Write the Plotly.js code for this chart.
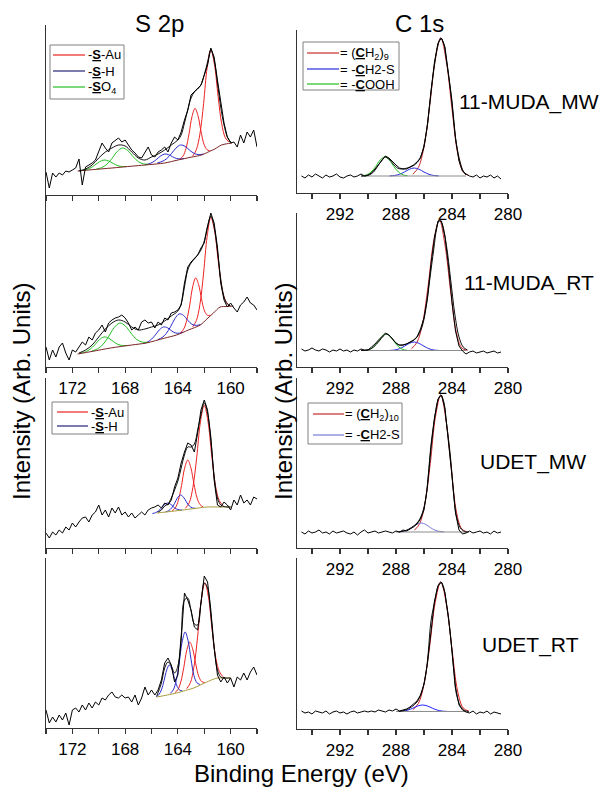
<!DOCTYPE html>
<html><head><meta charset="utf-8">
<script src="https://cdn.plot.ly/plotly-3.0.1.min.js"></script>
<style>html,body{margin:0;padding:0;background:#fff}#chart{width:613px;height:792px}</style>
</head><body><div id="chart"></div>
<script>
// ---------- energy grids (eV) ----------
const sGrid = [174,173.75,173.5,173.25,173,172.75,172.5,172.25,172,171.75,171.5,171.25,171,170.75,170.5,170.25,170,169.75,169.5,169.25,169,168.75,168.5,168.25,168,167.75,167.5,167.25,167,166.75,166.5,166.25,166,165.75,165.5,165.25,165,164.75,164.5,164.25,164,163.75,163.5,163.25,163,162.75,162.5,162.25,162,161.75,161.5,161.25,161,160.75,160.5,160.25,160,159.75,159.5,159.25,159,158.75,158.5,158.25,158];
const cGrid = [294.75,294.5,294.25,294,293.75,293.5,293.25,293,292.75,292.5,292.25,292,291.75,291.5,291.25,291,290.75,290.5,290.25,290,289.75,289.5,289.25,289,288.75,288.5,288.25,288,287.75,287.5,287.25,287,286.75,286.5,286.25,286,285.75,285.5,285.25,285,284.75,284.5,284.25,284,283.75,283.5,283.25,283,282.75,282.5,282.25,282,281.75,281.5,281.25,281,280.75,280.5];

// ---------- raw spectra (arb. units) ----------
const l1Raw = [23,7,22,18,22,20,24,23,25,27,36,10,28,30,32,35,43,52,47,43,52,55,57,53,55,50,45,42,38,37,42,48,40,38,43,45,48,43,52,58,55,63,75,85,100,103,107,110,120,130,147,138,115,92,72,58,52,53,48,60,52,63,58,65,48];
const l2Raw = [20,7,17,10,20,24,14,7,17,15,20,25,22,30,27,34,37,42,35,44,47,49,50,52,49,44,37,40,37,45,47,44,45,39,45,42,49,47,54,55,57,62,84,100,105,109,112,119,124,140,154,144,120,84,67,60,64,59,55,62,65,70,64,62,57];
const l3Raw = [15,10,16,13,18,15,21,18,25,21,26,30,31,26,33,36,43,33,38,31,40,35,41,33,36,31,35,30,33,36,33,38,40,41,43,40,45,43,48,61,70,85,96,105,103,96,115,138,148,138,111,68,43,41,46,43,38,48,43,53,45,48,43,51,49];
const l4Raw = [18,5,11,6,13,8,15,3,18,20,16,23,18,25,20,26,23,30,28,33,36,31,30,33,30,31,26,33,23,30,41,33,38,33,38,48,65,70,63,46,53,88,135,128,118,101,98,125,152,146,118,81,53,46,51,45,50,41,51,48,55,48,56,61,53];
const r1Raw = [17,15,18,16,19,17,15,18,16,17,19,16,15,17,18,16,17,19,17,18,20,24,28,32,37,35,31,28,25,24,24,26,28,31,35,46,68,102,131,150,155,146,121,92,55,32,22,19,17,16,18,15,17,16,18,15,17,14];
const r2Raw = [18,16,17,19,17,16,18,17,15,17,16,18,16,17,15,17,16,18,17,17,20,23,27,31,34,32,28,24,22,22,23,25,27,30,38,49,70,103,130,146,146,130,101,65,36,21,16,13,15,16,14,15,16,14,15,16,14,15];
const r3Raw = [16,14,17,15,16,18,15,16,14,17,15,16,17,15,14,16,13,16,18,15,16,17,15,16,17,16,15,17,16,18,17,19,21,24,29,38,62,100,130,149,153,139,108,72,35,18,14,15,17,15,16,17,15,16,14,17,15,16];
const r4Raw = [18,16,17,15,18,17,16,18,15,17,18,16,17,15,17,18,16,17,18,17,18,17,19,18,17,19,18,20,18,19,20,22,25,28,34,45,66,100,128,143,147,136,112,78,42,24,19,17,16,18,15,17,16,18,15,17,16,15];

// ---------- fit envelopes ----------
const sEnvE12 = [171.5,171,170.5,170,169.5,169,168.5,168,167.5,167,166.5,166,165.5,165,164.5,164,163.75,163.5,163.25,163,162.75,162.5,162.25,162,161.75,161.5,161.25,161,160.75,160.5,160.25,160];
const l1Env = [24,26,30,37,43,47,50,49,43,37,35,38,41,45,50,55,60,72,85,97,103,106,110,120,133,145,135,112,88,70,58,53];
const l2Env = [14,17,22,30,38,44,47,45,40,37,38,40,42,46,51,56,63,80,97,104,108,112,117,126,141,151,140,116,88,70,63,61];
const l3EnvE = [165.5,165.25,165,164.75,164.5,164.25,164,163.75,163.5,163.25,163,162.75,162.5,162.25,162,161.75,161.5,161.25,161,160.75,160.5,160.25,160];
const l3Env = [36,38,42,44,50,58,67,80,93,101,101,104,118,133,145,135,108,72,50,43,41.5,41,41];
const l4EnvE = [165.6,165.25,165,164.75,164.5,164.25,164,163.75,163.5,163.25,163,162.75,162.5,162.25,162,161.75,161.5,161.25,161,160.75,160.5,160.25,160];
const l4Env = [32,45,60,66,62,55,62,92,128,130,117,104,103,125,145,140,113,80,58,51,50,50,50];
const r1EnvE = [290.5,290,289.6,289.3,289,288.8,288.5,288.2,287.9,287.6,287.2,286.8,286.4,286.1,285.8,285.6,285.3,285,284.8,284.6,284.4,284.1,283.9,283.7,283.4,283.2,283];
const r1Env = [17,17.5,21,27,33,36,34,29,25,24,25,27,32,42,64,88,123,148,155,150,133,102,75,50,30,22,18];
const r2EnvE = [290.5,290,289.6,289.2,288.9,288.7,288.4,288.1,287.8,287.5,287.1,286.7,286.4,286.1,285.8,285.6,285.3,285.1,284.9,284.7,284.4,284.1,283.8,283.5,283.2,282.9];
const r2Env = [16.5,17,20,26,31,33,30.5,25.5,22,22,24,27,32,42,64,86,118,138,147,143,122,88,53,30,20,17];
const r34EnvE = [287.8,287.3,286.9,286.5,286.2,285.9,285.7,285.5,285.2,285,284.8,284.6,284.4,284.1,283.9,283.7,283.4,283.1,282.8];
const r3Env = [16,17.5,20.5,25,32,47,72,103,134,148,153,147,126,90,56,33,20,16.5,16];
const r4Env = [17.5,19,22,27,35,52,76,108,130,143,147,142,125,93,62,36,23,18.5,17.5];

// ---------- backgrounds ----------
const l1BgE = [171.6,170.5,169,167.5,166.5,165,164,163,162.2,161.6,161.2,160.7,160.3,159.9];
const l1Bg  = [24,25.3,27,28.8,30,32,35,37.8,40,43.6,46,50,51.2,52];
const l2BgE = [171.6,170.5,169.1,167.5,166.4,165,164.1,163.2,162.3,161.8,161.3,160.8,160.3,159.8];
const l2Bg  = [13,15.6,19,22,24,28.9,32,37,42,48,54,60,60.5,61];
const l3BgE = [165.6,164.5,163.5,162.5,161.8,161,160];
const l3Bg  = [35,36.6,38.2,39.9,41,41,41];
const l4BgE = [165.6,164.8,164.1,163.4,162.8,162.3,161.8,161.3,161,160.5,160];
const l4Bg  = [31,33,35,37.6,40,43,46,48.8,50,50,50];
const r12BgE = [290.5,283];
const r1Bg = [17,17];
const r2Bg = [16.5,16.5];
const r34BgE = [288,283];
const r3Bg = [16,16];
const r4Bg = [17.5,17.5];

// ---------- fitted components ----------
const l1AuBigE = [162.88,162.6,162.33,162.05,161.78,161.5,161.23,160.95,160.68,160.4,160.13];
const l1AuBig  = [38.8,45.2,60.9,91.4,127.4,145.2,130.7,98.5,71.3,57.2,53.0];
const l1AuSmE  = [163.83,163.6,163.38,163.15,162.93,162.7,162.48,162.25,162.03,161.8,161.58];
const l1AuSm   = [36.1,39.1,46.8,61.4,78.4,86.6,79.6,63.9,51.1,45.4,44.3];
const l1H1E = [165.55,165.2,164.85,164.5,164.15,163.8,163.45,163.1,162.75,162.4,162.05];
const l1H1  = [32.1,33.5,36.3,41.2,46.8,50.0,48.6,44.7,41.5,40.3,41.1];
const l1H2E = [166.5,166.2,165.9,165.6,165.3,165,164.7,164.4,164.1,163.8,163.5];
const l1H2  = [30.1,31.1,32.9,35.8,39.1,41,40.3,38.2,36.5,36.1,36.5];
const l1O1E = [170.2,169.8,169.4,169,168.6,168.2,167.8,167.4,167,166.6,166.2];
const l1O1  = [25.8,27.3,30.5,36.5,43.5,47,44.4,38.4,33.4,31.1,30.8];
const l1O2E = [171.35,171,170.65,170.3,169.95,169.6,169.25,168.9,168.55,168.2,167.85];
const l1O2  = [24.4,25.2,26.9,29.9,33.2,35,34.0,31.5,29.3,28.5,28.5];

const l2AuBigE = [162.88,162.6,162.33,162.05,161.78,161.5,161.23,160.95,160.68,160.4,160.13];
const l2AuBig  = [40.1,46.4,62.4,94,130.6,149.6,137.2,107.2,80.7,66.5,62.0];
const l2AuSmE  = [163.78,163.55,163.33,163.1,162.88,162.65,162.43,162.2,161.98,161.75,161.53];
const l2AuSm   = [34.4,38.2,46.6,62.1,80.0,89.1,82.5,67.7,56.1,51.7,51.8];
const l2H1E = [165.53,165.2,164.88,164.55,164.23,163.9,163.58,163.25,162.93,162.6,162.28];
const l2H1  = [27.3,29.5,33.5,40.4,48.3,53.1,51.7,46.7,42.7,41.6,42.5];
const l2H2E = [166.6,166.3,166,165.7,165.4,165.1,164.8,164.5,164.2,163.9,163.6];
const l2H2  = [23.7,25.0,27.8,32.2,37.2,40.0,39.3,36.4,34.1,33.8,34.9];
const l2O1E = [170.53,170.1,169.68,169.25,168.83,168.4,167.98,167.55,167.13,166.7,166.28];
const l2O1  = [15.9,18.1,22.6,30.5,39.4,44.0,41.0,33.8,27.6,24.9,24.7];
const l2O2E = [171.35,171,170.65,170.3,169.95,169.6,169.25,168.9,168.55,168.2,167.85];
const l2O2  = [13.8,15.2,17.9,22.2,27.3,30.0,28.9,25.5,22.6,21.5,21.5];

const l3AuBigE = [163.43,163.14,162.86,162.57,162.29,162,161.72,161.43,161.15,160.86,160.58];
const l3AuBig  = [39.7,45.2,60.7,90.7,126,142.7,126.8,92,62.4,47.4,42.3];
const l3AuSmE  = [164.43,164.19,163.96,163.72,163.49,163.25,163.02,162.78,162.55,162.31,162.08];
const l3AuSm   = [37.3,40.2,47.9,62.6,79.8,88.0,80.5,64.1,50.2,43.3,41.1];
const l3H1E = [164.93,164.7,164.48,164.25,164.03,163.8,163.58,163.35,163.13,162.9,162.68];
const l3H1  = [36.1,37.3,39.9,44.6,50.2,53.0,50.9,46.1,42.0,40.1,39.8];
const l3H2E = [165.93,165.7,165.48,165.25,165.03,164.8,164.58,164.35,164.13,163.9,163.68];
const l3H2  = [34.4,35.3,36.9,39.9,43.3,45.0,44.0,41.4,39.1,38.2,38.0];

const l4AuBigE = [163.33,163.05,162.78,162.5,162.23,161.95,161.68,161.4,161.13,160.85,160.58];
const l4AuBig  = [39.3,45.3,61.1,91.8,127.5,145.1,130.7,98,70.4,56.3,51.3];
const l4AuSmE  = [164.23,164,163.78,163.55,163.33,163.1,162.88,162.65,162.43,162.2,161.98];
const l4AuSm   = [35.3,38.3,46.1,60.6,77.5,85.9,79.2,64.4,52.1,46.5,45.5];
const l4H1E = [164.58,164.35,164.13,163.9,163.68,163.45,163.23,163,162.78,162.55,162.33];
const l4H1  = [34.6,38.1,47.2,65.1,85.8,96.0,87.6,68.5,52.4,45.2,43.6];
const l4H2E = [165.65,165.45,165.25,165.05,164.85,164.65,164.45,164.25,164.05,163.85,163.65];
const l4H2  = [31.3,33.2,38.1,47.3,57.8,63.0,58.8,49.3,41.4,37.8,37.1];

const r1CH2E = [286.8,286.4,286,285.6,285.2,284.8,284.4,284,283.6,283.2,282.8];
const r1CH2  = [18.8,25.6,46,86,133,155,131,84,40,21,17.5];
const r12CSE = [288.45,288.1,287.75,287.4,287.05,286.7,286.35,286,285.65,285.3,284.95];
const r1CS   = [17.1,17.5,18.7,21,23.7,25,23.7,21,18.7,17.5,17.1];
const r1COE  = [290.43,290.1,289.78,289.45,289.13,288.8,288.48,288.15,287.83,287.5,287.18];
const r1CO   = [17.2,18.2,21.0,26.5,33.0,36.0,33.0,26.5,21.0,18.2,17.2];
const r2CH2E = [286.9,286.5,286.1,285.7,285.3,284.9,284.5,284.1,283.7,283.3,282.9];
const r2CH2  = [18.2,24.7,43.9,81.8,126.3,147,122,76,35,19,16.7];
const r2CS   = [16.6,17.0,18.3,20.8,23.6,25.0,23.6,20.8,18.3,17.0,16.6];
const r2COE  = [290.2,289.9,289.6,289.3,289,288.7,288.4,288.1,287.8,287.5,287.2];
const r2CO   = [16.7,17.5,20.0,24.8,30.4,33.0,30.4,24.8,20.0,17.5,16.7];
const r3CH2E = [286.68,286.3,285.93,285.55,285.18,284.8,284.43,284.05,283.68,283.3,282.93];
const r3CH2  = [17.8,24.6,44.8,84.5,131.2,153,128,80,36,19,16.2];
const r3CSE  = [287.83,287.5,287.18,286.85,286.53,286.2,285.88,285.55,285.23,284.9,284.58];
const r3CS   = [16.1,16.6,17.9,20.5,23.6,25.0,23.6,20.5,17.9,16.6,16.1];
const r4CH2E = [286.8,286.4,286,285.6,285.2,284.8,284.4,284,283.6,283.2,282.8];
const r4CH2  = [19.2,25.6,44.7,82.3,126.4,147,125,80,38,21,18];
const r4CSE  = [287.85,287.5,287.15,286.8,286.45,286.1,285.75,285.4,285.05,284.7,284.35];
const r4CS   = [17.6,17.9,18.9,20.8,23.0,24.0,23.0,20.8,18.9,17.9,17.6];

// ---------- text ----------
const sampleLabels = ['11-MUDA_MW','11-MUDA_RT','UDET_MW','UDET_RT'];
const sNames = ['-<u><b>S</b></u>-Au','-<u><b>S</b></u>-H','-<u><b>S</b></u>O<sub>4</sub>'];
const cNames9 = ['= (<u><b>C</b></u>H<sub>2</sub>)<sub>9</sub>','= -<u><b>C</b></u>H2-S','= -<u><b>C</b></u>OOH'];
const cNames10 = ['= (<u><b>C</b></u>H<sub>2</sub>)<sub>10</sub>','= -<u><b>C</b></u>H2-S'];

// ---------- styling ----------
const FONT = 'Liberation Sans, Arial, Helvetica, sans-serif';
const SRED='#ee2222', SBLUE='#2a2acc', SNAVY='#24247a', GREEN='#22c022';
const CRED='#c82a2a', CBLUE='#2a2ae0', CBLUE3='#7a7ad8', CBG='#8c8c8c';

function comp(e,h,color){ return {e:e,h:h,color:color}; }
// panel order: 1 L1, 2 R1, 3 L2, 4 R2, 5 L3, 6 R3, 7 L4, 8 R4
const panels = [
  {col:'L', yTop:25, yBot:195, labels:false, raw:l1Raw, envE:sEnvE12, env:l1Env, bgE:l1BgE, bg:l1Bg, bgColor:'#7b2323',
   comps:[comp(l1AuBigE,l1AuBig,SRED),comp(l1AuSmE,l1AuSm,SRED),comp(l1H1E,l1H1,SBLUE),comp(l1H2E,l1H2,SBLUE),
          comp(l1O1E,l1O1,GREEN),comp(l1O2E,l1O2,GREEN)]},
  {col:'R', yTop:30, yBot:193, labels:true, raw:r1Raw, envE:r1EnvE, env:r1Env, bgE:r12BgE, bg:r1Bg, bgColor:CBG,
   comps:[comp(r1CH2E,r1CH2,CRED),comp(r12CSE,r1CS,CBLUE),comp(r1COE,r1CO,GREEN)]},
  {col:'L', yTop:198, yBot:367, labels:true, raw:l2Raw, envE:sEnvE12, env:l2Env, bgE:l2BgE, bg:l2Bg, bgColor:'#7b2323',
   comps:[comp(l2AuBigE,l2AuBig,SRED),comp(l2AuSmE,l2AuSm,SRED),comp(l2H1E,l2H1,SBLUE),comp(l2H2E,l2H2,SBLUE),
          comp(l2O1E,l2O1,GREEN),comp(l2O2E,l2O2,GREEN)]},
  {col:'R', yTop:213, yBot:367, labels:true, raw:r2Raw, envE:r2EnvE, env:r2Env, bgE:r12BgE, bg:r2Bg, bgColor:CBG,
   comps:[comp(r2CH2E,r2CH2,CRED),comp(r12CSE,r2CS,CBLUE),comp(r2COE,r2CO,GREEN)]},
  {col:'L', yTop:378, yBot:548, labels:false, raw:l3Raw, envE:l3EnvE, env:l3Env, bgE:l3BgE, bg:l3Bg, bgColor:'#a89a3a',
   comps:[comp(l3AuBigE,l3AuBig,SRED),comp(l3AuSmE,l3AuSm,SRED),comp(l3H1E,l3H1,SBLUE),comp(l3H2E,l3H2,SBLUE)]},
  {col:'R', yTop:378, yBot:548, labels:true, raw:r3Raw, envE:r34EnvE, env:r3Env, bgE:r34BgE, bg:r3Bg, bgColor:CBG,
   comps:[comp(r3CH2E,r3CH2,CRED),comp(r3CSE,r3CS,CBLUE3)]},
  {col:'L', yTop:558, yBot:728, labels:true, raw:l4Raw, envE:l4EnvE, env:l4Env, bgE:l4BgE, bg:l4Bg, bgColor:'#a89a3a',
   comps:[comp(l4AuBigE,l4AuBig,SRED),comp(l4AuSmE,l4AuSm,SRED),comp(l4H1E,l4H1,SBLUE),comp(l4H2E,l4H2,SBLUE)]},
  {col:'R', yTop:558, yBot:729, labels:true, raw:r4Raw, envE:r34EnvE, env:r4Env, bgE:r34BgE, bg:r4Bg, bgColor:CBG,
   comps:[comp(r4CH2E,r4CH2,'#dd2020'),comp(r4CSE,r4CS,'#2020ff')]}
];

const W=613, H=792;
const traces=[];
const layout={
  width:W, height:H, margin:{l:0,r:0,t:0,b:0}, paper_bgcolor:'#fff', plot_bgcolor:'rgba(0,0,0,0)',
  font:{family:FONT, color:'#000'}, showlegend:false, annotations:[], shapes:[]
};
panels.forEach((p,i)=>{
  const n=i+1, sfx=(n===1?'':String(n));
  const xa='x'+sfx, ya='y'+sfx;
  const isL = p.col==='L';
  const grid = isL? sGrid : cGrid;
  const x0 = isL? 46:297, x1 = isL? 257:508;
  layout['xaxis'+sfx]={
    domain:[x0/W, x1/W], anchor:ya,
    range: isL? [174,158] : [295.07,280],
    showline:true, linecolor:'#333', linewidth:1.4, mirror:false,
    showgrid:false, zeroline:false, fixedrange:true,
    ticks:'outside', ticklen:5, tickwidth:1.2, tickcolor:'#333',
    tick0:0, dtick:4, showticklabels:p.labels,
    tickfont:{size:17, family:FONT, color:'#000'},
    minor:{tick0:0, dtick:2, ticks:'outside', ticklen:5, tickwidth:1.2, tickcolor:'#333', showgrid:false}
  };
  layout['yaxis'+sfx]={
    domain:[1-p.yBot/H, 1-p.yTop/H], anchor:xa,
    range:[0, p.yBot-p.yTop],
    showline:true, linecolor:'#333', linewidth:1.4,
    showgrid:false, zeroline:false, ticks:'', showticklabels:false, fixedrange:true
  };
  p.comps.forEach(c=>{
    traces.push({type:'scatter', mode:'lines', x:c.e, y:c.h, xaxis:xa, yaxis:ya,
      line:{color:c.color, width:1, shape:'spline', smoothing:1}, hoverinfo:'skip'});
  });
  traces.push({type:'scatter', mode:'lines', x:p.bgE, y:p.bg, xaxis:xa, yaxis:ya,
    line:{color:p.bgColor, width:1, shape:'spline', smoothing:0.8}, hoverinfo:'skip'});
  traces.push({type:'scatter', mode:'lines', x:p.envE, y:p.env, xaxis:xa, yaxis:ya,
    line:{color:'#111', width:1, shape:'spline', smoothing:1}, hoverinfo:'skip'});
  traces.push({type:'scatter', mode:'lines', x:grid, y:p.raw, xaxis:xa, yaxis:ya,
    line:{color:'#000', width:1}, hoverinfo:'skip'});
});

function ann(text,px,py,size,opts){
  return Object.assign({text:text, x:px/W, y:1-py/H, xref:'paper', yref:'paper', showarrow:false,
    xanchor:'center', yanchor:'middle', font:{size:size, family:FONT, color:'#000'}}, opts||{});
}
// hand-drawn legend boxes (paper pixel positions)
function legendBox(bx0,by0,bx1,by1,lx0,lx1,tx,rows){
  layout.shapes.push({type:'rect', xref:'paper', yref:'paper', x0:bx0/W, x1:bx1/W, y0:1-by1/H, y1:1-by0/H,
    line:{color:'#808080', width:1}, fillcolor:'#fff', layer:'above'});
  rows.forEach(r=>{
    layout.shapes.push({type:'line', xref:'paper', yref:'paper', x0:lx0/W, x1:lx1/W, y0:1-r.y/H, y1:1-r.y/H,
      line:{color:r.color, width:1.2}, layer:'above'});
    layout.annotations.push(ann(r.text, tx, r.y, 13, {xanchor:'left', borderpad:0}));
  });
}
legendBox(50,45,124,99, 53,85,87, [
  {y:55, color:SRED, text:sNames[0]}, {y:71, color:SNAVY, text:sNames[1]}, {y:87, color:GREEN, text:sNames[2]}]);
legendBox(303,42,399,90, 307,339,339, [
  {y:53, color:CRED, text:cNames9[0]}, {y:69, color:CBLUE, text:cNames9[1]}, {y:84, color:GREEN, text:cNames9[2]}]);
legendBox(52,402,128,434, 57,88,90, [
  {y:412, color:SRED, text:sNames[0]}, {y:426, color:SNAVY, text:sNames[1]}]);
legendBox(308,403,402,444, 313,344,344, [
  {y:414, color:CRED, text:cNames10[0]}, {y:435, color:CBLUE3, text:cNames10[1]}]);

layout.annotations.push(ann('S 2p',159,23,24));
layout.annotations.push(ann('C 1s',419,23,24));
layout.annotations.push(ann('Binding Energy (eV)',301,773,24,{borderpad:0}));
layout.annotations.push(ann('Intensity (Arb. Units)',21,392,24,{textangle:-90}));
layout.annotations.push(ann('Intensity (Arb. Units)',283,392,24,{textangle:-90}));
layout.annotations.push(ann(sampleLabels[0],457,102,21,{xanchor:'left'}));
layout.annotations.push(ann(sampleLabels[1],462,283,21,{xanchor:'left'}));
layout.annotations.push(ann(sampleLabels[2],478,462,21,{xanchor:'left'}));
layout.annotations.push(ann(sampleLabels[3],480,645,21,{xanchor:'left'}));

Plotly.newPlot('chart', traces, layout, {staticPlot:true, displayModeBar:false});
</script></body></html>
